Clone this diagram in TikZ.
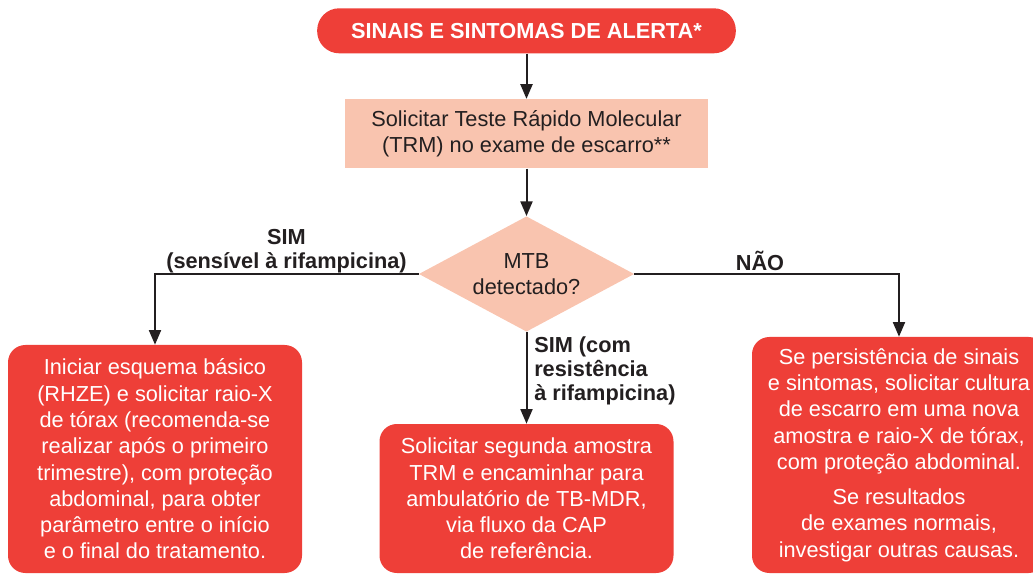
\documentclass[tikz,border=0pt]{standalone}
\usepackage{fontspec}
\setmainfont{Liberation Sans}
\usetikzlibrary{positioning,arrows.meta,shapes.geometric}
\definecolor{alertred}{HTML}{EE3F38}
\definecolor{salmon}{HTML}{F9C4AF}
\definecolor{inkline}{HTML}{231F20}

\begin{document}
\begin{tikzpicture}[x=0.75pt, y=-0.75pt,
  txt/.style={font=\fontsize{16.3}{19.7}\selectfont, align=center},
  lbl/.style={font=\fontsize{16.3}{18}\selectfont\bfseries, text=inkline, inner sep=0pt},
  redbox/.style={txt, fill=alertred, text=white, rounded corners=13pt, minimum width=220.5pt, inner sep=0pt},
  salbox/.style={txt, fill=salmon, text=inkline, inner sep=0pt},
  flow/.style={draw=inkline, line width=1.5pt, -{Triangle[width=9pt,length=11pt]}}]

\useasboundingbox (0,0) rectangle (1033,574);

\node[redbox, rounded corners=16.5pt, minimum width=314pt, minimum height=33.75pt, font=\fontsize{16.3}{19.7}\selectfont\bfseries] (sinais) at (526.5,30.8) {SINAIS E SINTOMAS DE ALERTA*};

\node[salbox, minimum width=272pt, minimum height=52pt] (trm) at (526.5,133.8) {Solicitar Teste Rápido Molecular\\(TRM) no exame de escarro**};

\node[diamond, salbox, aspect=1.86, minimum width=161.5pt, minimum height=86.5pt] (mtb) at (526.5,274) {MTB\\detectado?};

\node[redbox, minimum height=171pt] (basico) at (155,459) {Iniciar esquema básico\\(RHZE) e solicitar raio-X\\de tórax (recomenda-se\\realizar após o primeiro\\trimestre), com proteção\\abdominal, para obter\\parâmetro entre o início\\e o final do tratamento.};

\node[redbox, minimum height=111.75pt] (mdr) at (526.5,498.5) {Solicitar segunda amostra\\TRM e encaminhar para\\ambulatório de TB-MDR,\\via fluxo da CAP\\de referência.};

\node[redbox, minimum height=177pt] (persiste) at (899,455) {Se persistência de sinais\\e sintomas, solicitar cultura\\de escarro em uma nova\\amostra e raio-X de tórax,\\com proteção abdominal.\\[6.75pt]Se resultados\\de exames normais,\\investigar outras causas.};

% conectores
\draw[flow] (sinais) -- (trm);
\draw[flow] (trm) -- (mtb);
\draw[flow] (mtb.west) -| (basico);
\draw[flow] (mtb.east) -| (persiste);
\draw[flow] (mtb) -- (mdr);

% rotulos
\node[lbl, align=center] (simsens) at (286.5,251) {SIM\\(sensível à rifampicina)};
\node[lbl] (nao) at (760,260.5) {NÃO};
\node[lbl, align=left, anchor=west] (simres) at (534,371) {SIM (com\\resistência\\à rifampicina)};

\end{tikzpicture}
\end{document}
